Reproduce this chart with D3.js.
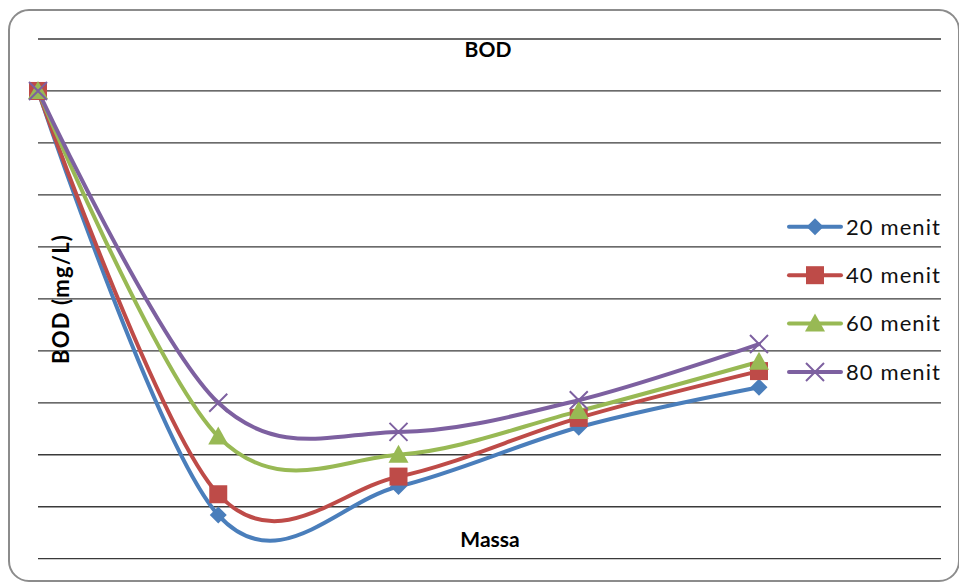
<!DOCTYPE html>
<html><head><meta charset="utf-8">
<script src="https://cdn.jsdelivr.net/npm/d3@7"></script>
<style>html,body{margin:0;padding:0;background:#fff;}svg{display:block;}</style>
</head><body>
<script>
const categories = ["M1", "M2", "M3", "M4", "M5"];
const seriesNames = ["20 menit", "40 menit", "60 menit", "80 menit"];
const values20 = [9.0, 0.84, 1.39, 2.53, 3.30];
const values40 = [9.0, 1.24, 1.58, 2.71, 3.61];
const values60 = [9.0, 2.35, 2.00, 2.84, 3.79];
const values80 = [9.0, 3.00, 2.44, 3.05, 4.13];
const yTicks = [0, 1, 2, 3, 4, 5, 6, 7, 8, 9, 10];
const colors = ["#4A7EBB", "#BE4B48", "#98B954", "#7D60A0"];
const markers = ["diamond", "square", "triangle", "x"];

const W = 959, H = 583;
const svg = d3.select("body").append("svg").attr("width", W).attr("height", H);

svg.append("rect").attr("x", 9).attr("y", 10).attr("width", 950).attr("height", 571)
  .attr("rx", 20).attr("ry", 20).attr("fill", "#fff").attr("stroke", "#8c8c8c").attr("stroke-width", 2);

const x = d3.scalePoint().domain(categories).range([38, 759]).padding(0);
const y = d3.scaleLinear().domain([0, 10]).range([558.7, 39]);

// gridlines
svg.append("g").selectAll("line").data(yTicks).join("line")
  .attr("x1", 38).attr("x2", 941)
  .attr("y1", d => y(d)).attr("y2", d => y(d))
  .attr("stroke", "#3a3a3a").attr("stroke-width", 1.3);

// title & labels
svg.append("text").attr("x", 488).attr("y", 56.5).attr("text-anchor", "middle")
  .attr("font-family", "Lato, 'Open Sans', sans-serif").attr("font-weight", "bold").attr("font-size", 21)
  .attr("fill", "#000").text("BOD");
svg.append("text").attr("x", 490).attr("y", 547).attr("text-anchor", "middle")
  .attr("font-family", "Lato, 'Open Sans', sans-serif").attr("font-weight", "bold").attr("font-size", 21)
  .attr("fill", "#000").text("Massa");
svg.append("text").attr("transform", "translate(69,299) rotate(-90)").attr("text-anchor", "middle")
  .attr("font-family", "Lato, 'Open Sans', sans-serif").attr("font-weight", "bold").attr("font-size", 22)
  .attr("letter-spacing", 1.2)
  .attr("fill", "#000").text("BOD (mg/L)");

const allSeries = [values20, values40, values60, values80];
const line = d3.line().x((d, i) => x(categories[i])).y(d => y(d)).curve(d3.curveCatmullRom.alpha(0));

function drawMarker(g, type, color, cx, cy) {
  if (type === "diamond") {
    g.append("path").attr("d", `M${cx},${cy - 8.5}L${cx + 8.5},${cy}L${cx},${cy + 8.5}L${cx - 8.5},${cy}Z`)
      .attr("fill", color);
  } else if (type === "square") {
    g.append("rect").attr("x", cx - 9).attr("y", cy - 9).attr("width", 18).attr("height", 18).attr("fill", color);
  } else if (type === "triangle") {
    g.append("path").attr("d", `M${cx},${cy - 10}L${cx + 10},${cy + 8}L${cx - 10},${cy + 8}Z`).attr("fill", color);
  } else {
    g.append("path").attr("d", `M${cx - 9},${cy - 9}L${cx + 9},${cy + 9}M${cx - 9},${cy + 9}L${cx + 9},${cy - 9}`)
      .attr("stroke", color).attr("stroke-width", 2).attr("fill", "none");
  }
}

allSeries.forEach((vals, si) => {
  const g = svg.append("g");
  g.append("path").attr("d", line(vals)).attr("fill", "none").attr("stroke", colors[si])
    .attr("stroke-width", 4).attr("stroke-linejoin", "round").attr("stroke-linecap", "round");
});
allSeries.forEach((vals, si) => {
  const g = svg.append("g");
  vals.forEach((v, i) => drawMarker(g, markers[si], colors[si], x(categories[i]), y(v)));
});

// legend
const legY = [226.7, 275.2, 323.5, 372];
seriesNames.forEach((name, si) => {
  const g = svg.append("g");
  g.append("line").attr("x1", 789).attr("x2", 841).attr("y1", legY[si]).attr("y2", legY[si])
    .attr("stroke", colors[si]).attr("stroke-width", 4).attr("stroke-linecap", "round");
  drawMarker(g, markers[si], colors[si], 815, legY[si]);
  g.append("text").attr("x", 846).attr("y", legY[si] + 7.8)
    .attr("font-family", "Lato, 'Open Sans', sans-serif").attr("font-size", 22).attr("letter-spacing", 1.1)
    .attr("fill", "#111").text(name);
});
</script>
</body></html>
